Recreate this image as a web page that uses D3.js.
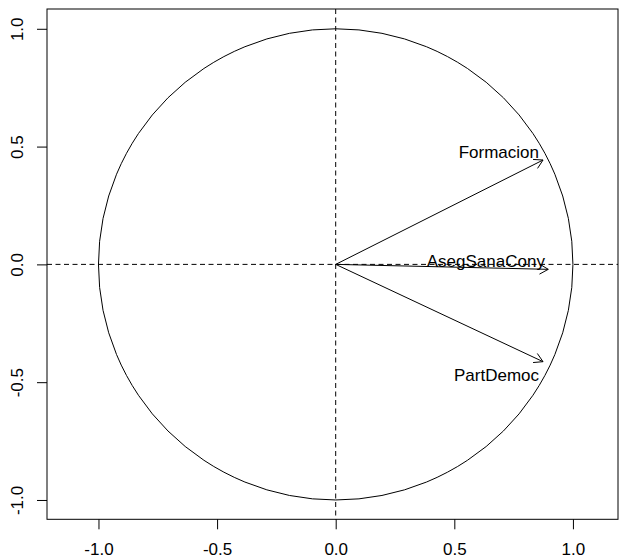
<!DOCTYPE html>
<html>
<head>
<meta charset="utf-8">
<script src="https://cdn.jsdelivr.net/npm/d3@7"></script>
<style>
  body { margin: 0; background: #fff; }
  svg { display: block; }
</style>
</head>
<body>
<div class="container"></div>
<script>
// variable coordinates on the first two components
const vars = ["Formacion", "AsegSanaCony", "PartDemoc"];
const dim1 = [0.874, 0.896, 0.874];
const dim2 = [0.443, -0.021, -0.413];
// where the labels sit (data units, right-aligned, vertically centred)
const labelX = [0.857, 0.882, 0.857];
const labelY = [0.479, 0.014, -0.470];

const ticks = [-1.0, -0.5, 0.0, 0.5, 1.0];
const xlim = [-1.217, 1.19];
const ylim = [-1.082, 1.084];

const width = 620, height = 559;
const plot = {left: 47, right: 618, top: 9, bottom: 519.3};
const fontSize = "17px";

let svg = d3.select(".container").append("svg")
  .attr("width", width)
  .attr("height", height)
  .style("font-family", "'Liberation Sans', Arial, sans-serif");

const x = d3.scaleLinear().domain(xlim).range([plot.left, plot.right]);
const y = d3.scaleLinear().domain(ylim).range([plot.bottom, plot.top]);

// axes, R style: ticks outside, labels only
const fmt = d => d3.format(".1f")(d).replace("−", "-");
const xAxis = d3.axisBottom(x).tickValues(ticks).tickSize(10).tickPadding(14).tickFormat(fmt);
const yAxis = d3.axisLeft(y).tickValues(ticks).tickSize(10).tickFormat(fmt);

let gx = svg.append("g")
  .attr("transform", `translate(0, ${plot.bottom})`)
  .call(xAxis);
gx.select(".domain").remove();
gx.selectAll("text").style("font-size", fontSize).attr("fill", "#000");
gx.selectAll("line").attr("stroke", "#000");

let gy = svg.append("g")
  .attr("transform", `translate(${plot.left}, 0)`)
  .call(yAxis);
gy.select(".domain").remove();
gy.selectAll("line").attr("stroke", "#000");
gy.selectAll("text")
  .style("font-size", fontSize)
  .attr("fill", "#000")
  .attr("x", null).attr("dy", null)
  .attr("text-anchor", "middle")
  .attr("transform", "translate(-24, 0) rotate(-90)");

// box
svg.append("rect")
  .attr("x", plot.left).attr("y", plot.top)
  .attr("width", plot.right - plot.left)
  .attr("height", plot.bottom - plot.top)
  .attr("fill", "none").attr("stroke", "#000").attr("stroke-width", 1);

// dashed reference lines
svg.append("line")
  .attr("x1", plot.left).attr("x2", plot.right)
  .attr("y1", y(0)).attr("y2", y(0))
  .attr("stroke", "#000").attr("stroke-dasharray", "5,3.5");
svg.append("line")
  .attr("x1", x(0)).attr("x2", x(0))
  .attr("y1", plot.top).attr("y2", plot.bottom)
  .attr("stroke", "#000").attr("stroke-dasharray", "5,3.5");

// unit circle
svg.append("ellipse")
  .attr("cx", x(0)).attr("cy", y(0))
  .attr("rx", x(1) - x(0)).attr("ry", y(0) - y(1))
  .attr("fill", "none").attr("stroke", "#000").attr("stroke-width", 1);

// arrows
const headLen = 10, headAng = Math.PI / 6;
let arrows = svg.append("g");
vars.forEach((v, i) => {
  const x0 = x(0), y0 = y(0), x1 = x(dim1[i]), y1 = y(dim2[i]);
  const ang = Math.atan2(y1 - y0, x1 - x0);
  arrows.append("line")
    .attr("x1", x0).attr("y1", y0).attr("x2", x1).attr("y2", y1)
    .attr("stroke", "#000");
  arrows.append("path")
    .attr("d", `M${x1 - headLen * Math.cos(ang - headAng)},${y1 - headLen * Math.sin(ang - headAng)}` +
      `L${x1},${y1}` +
      `L${x1 - headLen * Math.cos(ang + headAng)},${y1 - headLen * Math.sin(ang + headAng)}`)
    .attr("fill", "none").attr("stroke", "#000");
  arrows.append("text")
    .attr("x", x(labelX[i])).attr("y", y(labelY[i]))
    .attr("dy", "0.36em")
    .attr("text-anchor", "end")
    .style("font-size", fontSize)
    .attr("fill", "#000")
    .text(v);
});
</script>
</body>
</html>
